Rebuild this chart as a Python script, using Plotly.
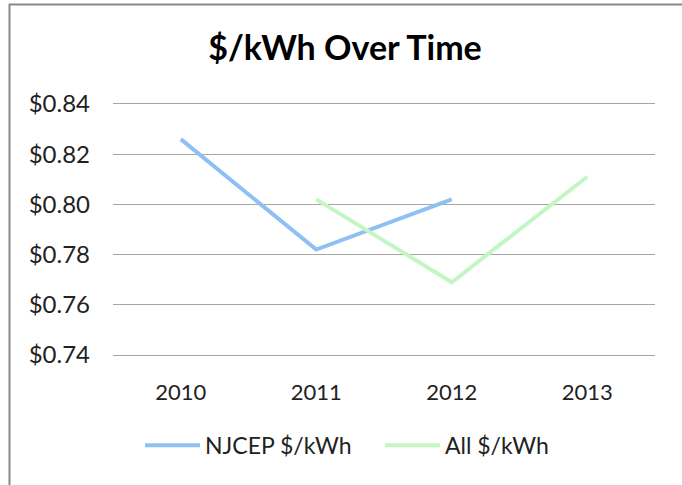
import plotly.graph_objects as go

years = ["2010", "2011", "2012", "2013"]
njcep = [0.826, 0.782, 0.802, None]
all_kwh = [None, 0.802, 0.769, 0.811]
y_ticks = [0.74, 0.76, 0.78, 0.80, 0.82, 0.84]

W, H = 682, 485
ml, mr, mt, mb = 113, 27, 104, 130
pw, ph = W - ml - mr, H - mt - mb

fig = go.Figure()
fig.add_trace(go.Scatter(x=years, y=njcep, name="NJCEP $/kWh", mode="lines",
                         line=dict(color="#8ec0f4", width=4)))
fig.add_trace(go.Scatter(x=years, y=all_kwh, name="All $/kWh", mode="lines",
                         line=dict(color="#c4f6c4", width=4)))

fig.update_layout(
    width=W, height=H,
    margin=dict(l=ml, r=mr, t=mt, b=mb),
    paper_bgcolor="white", plot_bgcolor="white",
    font=dict(family="Lato", size=22, color="#222222"),
    title=dict(text="<b>$/kWh Over Time</b>", x=345 / W, xref="container", xanchor="center",
               y=1 - 48 / H, yanchor="middle", font=dict(size=34, color="black")),
    showlegend=True,
    legend=dict(orientation="h", x=(140 - ml) / pw, xanchor="left", y=-0.36, yanchor="middle",
                font=dict(size=23), itemwidth=55, entrywidth=170, tracegroupgap=0),
    shapes=[dict(type="rect", xref="paper", yref="paper",
                 x0=(9.5 - ml) / pw, x1=1.2, y0=-1, y1=(H - mb - 4.5) / ph,
                 line=dict(color="#888888", width=2), layer="above")],
)
fig.update_xaxes(type="category", range=[-0.5, 3.5], showgrid=False,
                 showline=True, mirror=True, linecolor="#a6a6a6", linewidth=1,
                 zeroline=False, ticks="", ticklabelstandoff=18)
fig.update_yaxes(range=[0.74, 0.84], tickvals=y_ticks, tickformat="$.2f",
                 tickfont=dict(size=24),
                 showgrid=True, gridcolor="#a6a6a6", gridwidth=1, zeroline=False,
                 showline=False, ticks="", ticklabelstandoff=22)

fig.write_html("out.html", config={"displayModeBar": False},
               post_script="document.body.style.margin='0';")
